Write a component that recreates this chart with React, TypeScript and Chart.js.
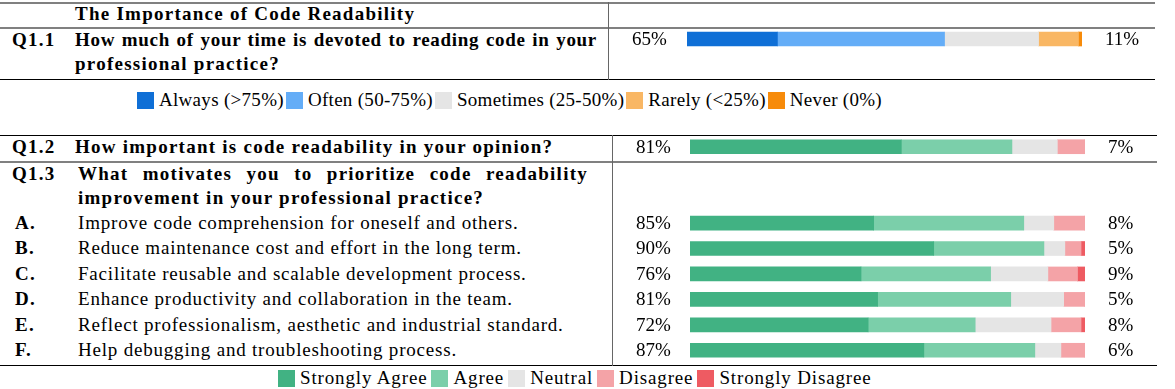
import React, { useEffect, useRef } from "react";
import { Chart, registerables } from "chart.js";
Chart.register(...registerables);

const FONT = '"Liberation Serif", serif';

// Q1.1 frequency data
const freqLabels = ["Always (>75%)", "Often (50-75%)", "Sometimes (25-50%)", "Rarely (<25%)", "Never (0%)"];
const freqColors = ["#0f6fd6", "#64adf7", "#e5e5e5", "#f9b764", "#f78b0a"];
const q11Category = ["Q1.1"];
const q11Values = [22.9, 42.3, 23.8, 10.1, 0.9];
const q11LeftPct = ["65%"];
const q11RightPct = ["11%"];

// Likert data (Q1.2, Q1.3 A–F)
const likertLabels = ["Strongly Agree", "Agree", "Neutral", "Disagree", "Strongly Disagree"];
const likertColors = ["#41b283", "#7bcfaa", "#e5e5e5", "#f4a3a7", "#ee5b62"];
const likertCategories = ["Q1.2", "", "", "A.", "B.", "C.", "D.", "E.", "F."];
const stronglyAgree = [53.5, null, null, 46.5, 61.7, 43.3, 47.5, 45.1, 59.2];
const agree = [28, null, null, 38, 27.9, 32.8, 33.7, 27.1, 28.1];
const neutral = [11.5, null, null, 7.6, 5.3, 14.5, 13.4, 19.2, 6.6];
const disagree = [7, null, null, 7.9, 4.1, 7.5, 5.4, 7.6, 6.1];
const stronglyDisagree = [0, null, null, 0, 1, 1.9, 0, 1, 0];
const likertLeftPct = ["81%", "", "", "85%", "90%", "76%", "81%", "72%", "87%"];
const likertRightPct = ["7%", "", "", "8%", "5%", "9%", "5%", "8%", "6%"];

// Table texts
const sectionTitle = "The Importance of Code Readability";
const q11Text = ["How much of your time is devoted to reading code in your", "professional practice?"];
const q12Text = "How important is code readability in your opinion?";
const q13Text = ["What motivates you to prioritize code readability", "improvement in your professional practice?"];
const itemLetters = ["A.", "B.", "C.", "D.", "E.", "F."];
const itemTexts = [
  "Improve code comprehension for oneself and others.",
  "Reduce maintenance cost and effort in the long term.",
  "Facilitate reusable and scalable development process.",
  "Enhance productivity and collaboration in the team.",
  "Reflect professionalism, aesthetic and industrial standard.",
  "Help debugging and troubleshooting process.",
];

function pctPlugin(left: string[], right: string[], leftX: number, rightX: number) {
  return {
    id: "pctLabels",
    afterDraw(chart: any) {
      const ctx = chart.ctx;
      const ys = chart.scales.y;
      ctx.save();
      ctx.font = `19px ${FONT}`;
      ctx.fillStyle = "#000";
      ctx.textBaseline = "middle";
      ctx.textAlign = "left";
      left.forEach((t, i) => {
        const y = ys.getPixelForValue(i) + 1;
        if (t) ctx.fillText(t, leftX, y);
        if (right[i]) ctx.fillText(right[i], rightX, y);
      });
      ctx.restore();
    },
  };
}

function baseOptions(padLeft: number, padRight: number) {
  return {
    indexAxis: "y" as const,
    responsive: false,
    animation: false as const,
    maintainAspectRatio: false,
    layout: { padding: { left: padLeft, right: padRight, top: 0, bottom: 0 } },
    plugins: { legend: { display: false }, tooltip: { enabled: false } },
    scales: {
      x: { display: false, stacked: true, min: 0, max: 100 },
      y: { display: false, stacked: true },
    },
  };
}

function BarCanvas(props: { kind: "q11" | "likert"; style: React.CSSProperties; w: number; h: number }) {
  const ref = useRef<HTMLCanvasElement | null>(null);
  useEffect(() => {
    if (!ref.current) return;
    let chart: Chart;
    if (props.kind === "q11") {
      chart = new Chart(ref.current, {
        type: "bar",
        data: {
          labels: q11Category,
          datasets: freqLabels.map((l, i) => ({
            label: l,
            data: [q11Values[i]],
            backgroundColor: freqColors[i],
            borderWidth: 0,
            barThickness: 14,
          })),
        },
        options: baseOptions(77, 75) as any,
        plugins: [pctPlugin(q11LeftPct, q11RightPct, 22, 495)],
      });
    } else {
      const series = [stronglyAgree, agree, neutral, disagree, stronglyDisagree];
      chart = new Chart(ref.current, {
        type: "bar",
        data: {
          labels: likertCategories,
          datasets: likertLabels.map((l, i) => ({
            label: l,
            data: series[i],
            backgroundColor: likertColors[i],
            borderWidth: 0,
            barThickness: 14,
          })),
        },
        options: baseOptions(76, 72) as any,
        plugins: [pctPlugin(likertLeftPct, likertRightPct, 22, 494)],
      });
    }
    return () => chart.destroy();
  }, []);
  return <canvas ref={ref} width={props.w} height={props.h} style={{ position: "absolute", ...props.style }} />;
}

function HLine({ y, x1, x2, color, t }: { y: number; x1: number; x2: number; color: string; t: number }) {
  return <div style={{ position: "absolute", left: x1, top: y - t / 2, width: x2 - x1, height: t, background: color }} />;
}
function VLine({ x, y1, y2, color, t }: { x: number; y1: number; y2: number; color: string; t: number }) {
  return <div style={{ position: "absolute", left: x - t / 2, top: y1, width: t, height: y2 - y1, background: color }} />;
}

function Txt(props: { x: number; cy: number; bold?: boolean; width?: number; justify?: boolean; ls?: number; children: React.ReactNode }) {
  const lh = 24;
  const ls = props.ls ?? (props.bold ? 1.25 : 0.8);
  return (
    <div
      style={{
        position: "absolute",
        left: props.x,
        top: props.cy - lh / 2,
        lineHeight: lh + "px",
        height: lh,
        fontSize: 19,
        fontWeight: props.bold ? 700 : 400,
        letterSpacing: ls + "px",
        whiteSpace: "nowrap",
        width: props.width,
        textAlign: props.justify ? "justify" : "left",
        textAlignLast: props.justify ? "justify" : undefined,
        color: "#000",
      } as React.CSSProperties}
    >
      {props.children}
    </div>
  );
}

function Legend({ labels, colors, x, cy, ls, gap }: { labels: string[]; colors: string[]; x: number; cy: number; ls: number; gap: number }) {
  return (
    <div style={{ position: "absolute", left: x, top: cy - 12, height: 24, display: "flex", alignItems: "center", fontSize: 19, letterSpacing: ls + "px", whiteSpace: "nowrap" }}>
      {labels.map((l, i) => (
        <div key={i} style={{ display: "flex", alignItems: "center", marginRight: gap }}>
          <div style={{ width: 17, height: 17, background: colors[i], marginRight: 5 }} />
          <span>{l}</span>
        </div>
      ))}
    </div>
  );
}

export default function App() {
  const rowStart = 223;
  const rowStep = 25.44;
  const gray = "#808080";
  return (
    <div style={{ position: "absolute", left: 0, top: 0, width: 1175, height: 389, background: "#fff", fontFamily: FONT, color: "#000", overflow: "hidden" }}>
      {/* upper table */}
      <HLine y={2.5} x1={0} x2={1155} color={gray} t={2} />
      <HLine y={27.5} x1={0} x2={1155} color={gray} t={2} />
      <HLine y={79.5} x1={0} x2={1155} color="#000" t={1.3} />
      <VLine x={608.5} y1={2} y2={80} color="#666" t={1.5} />
      <Txt x={75} cy={14} bold>{sectionTitle}</Txt>
      <Txt x={12} cy={40} bold>Q1.1</Txt>
      <Txt x={75} cy={40} bold width={522} justify ls={0.7}>{q11Text[0]}</Txt>
      <Txt x={75} cy={64} bold>{q11Text[1]}</Txt>
      <BarCanvas kind="q11" style={{ left: 610, top: 27 }} w={547} h={24} />

      <Legend labels={freqLabels} colors={freqColors} x={137} cy={100} ls={0.3} gap={2} />

      {/* lower table */}
      <HLine y={135.5} x1={0} x2={1157} color="#000" t={1.3} />
      <HLine y={161.5} x1={0} x2={1157} color={gray} t={2} />
      <HLine y={365.5} x1={0} x2={1157} color="#000" t={1.3} />
      <VLine x={612.5} y1={135} y2={366} color="#666" t={1.5} />
      <Txt x={12} cy={147} bold>Q1.2</Txt>
      <Txt x={75} cy={147} bold>{q12Text}</Txt>
      <Txt x={12} cy={174} bold>Q1.3</Txt>
      <Txt x={78} cy={174} bold width={510} justify>{q13Text[0]}</Txt>
      <Txt x={78} cy={198} bold>{q13Text[1]}</Txt>
      {itemLetters.map((l, i) => (
        <React.Fragment key={l}>
          <Txt x={15} cy={rowStart + i * rowStep} bold>{l}</Txt>
          <Txt x={78} cy={rowStart + i * rowStep}>{itemTexts[i]}</Txt>
        </React.Fragment>
      ))}
      <BarCanvas kind="likert" style={{ left: 614, top: 134 }} w={543} h={229} />

      <Legend labels={likertLabels} colors={likertColors} x={278} cy={378} ls={0.85} gap={4} />
    </div>
  );
}
